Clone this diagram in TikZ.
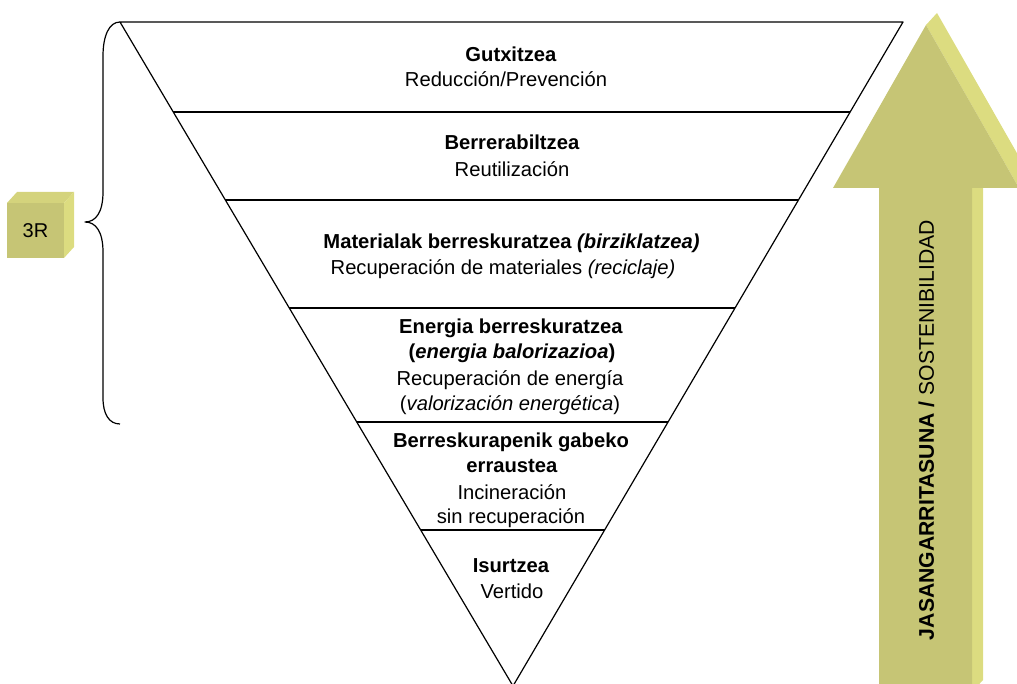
\documentclass[tikz,border=0pt]{standalone}
\usepackage{fontspec}
\setmainfont{Liberation Sans}
\usetikzlibrary{calc}
\definecolor{olivefront}{RGB}{198,197,117}
\definecolor{oliveside}{RGB}{220,220,128}
\definecolor{olivetop}{RGB}{212,211,124}
\begin{document}
\begin{tikzpicture}[x=1pt,y=-1pt,line join=round,
  lbl/.style={anchor=base,inner sep=0pt,font=\fontsize{20.2}{24}\selectfont},
  tri/.style={line width=1.2pt,black},
  brace/.style={line width=1.2pt,black}]
\useasboundingbox (0,0) rectangle (1017,684);
\clip (0,0) rectangle (1017,684);

% sustainability arrow
\fill[oliveside] (926,25) -- (937,13) -- (1030,176) -- (1019,188) -- cycle;
\fill[oliveside] (972,188) -- (983,176) -- (983,680) -- (972,692) -- cycle;
\fill[olivefront] (926,25) -- (1019,188) -- (972,188) -- (972,700) -- (879,700)
  -- (879,188) -- (833,188) -- cycle;
\node[rotate=90,inner sep=0pt,font=\fontsize{21.2}{25}\selectfont] (sust) at (926.5,430)
  {\textbf{JASANGARRITASUNA /} SOSTENIBILIDAD};

% 3R cube
\fill[olivetop] (7,203) -- (17,192) -- (74,192) -- (64,203) -- cycle;
\fill[oliveside] (64,203) -- (74,192) -- (74,247) -- (64,258) -- cycle;
\fill[olivefront] (7,203) rectangle (64,258);
\node[inner sep=0pt,font=\fontsize{20}{24}\selectfont] (r3) at (35.5,231) {3R};

% inverted triangle
\coordinate (TL) at (120,22);
\coordinate (TR) at (903,22);
\coordinate (B) at (513,686);
\draw[tri] (TL) -- (TR) -- (B) -- cycle;
\foreach \t in {0.1355,0.2681,0.4307,0.6024,0.7651}{
  \draw[tri] ($(TL)!\t!(B)$) -- ($(TR)!\t!(B)$);
}

% brace
\coordinate (BT) at (120,424);
\draw[brace] (TL) .. controls (109,22) and (103,36) .. (103,56) -- (103,192)
  .. controls (103,212) and (96,222) .. (85,222)
  .. controls (96,222) and (103,232) .. (103,252) -- (103,398)
  .. controls (103,414) and (109,424) .. (BT);

% texts
\node[lbl] (t1a) at (511,62) {\textbf{Gutxitzea}};
\node[lbl] (t1b) at (506,87) {Reducción/Prevención};
\node[lbl] (t2a) at (512,150) {\textbf{Berrerabiltzea}};
\node[lbl] (t2b) at (512,177) {Reutilización};
\node[lbl] (t3a) at (511.5,249) {\textbf{Materialak berreskuratzea \textit{(birziklatzea)}}};
\node[lbl] (t3b) at (503,275) {Recuperación de materiales \textit{(reciclaje)}};
\node[lbl] (t4a) at (511,334) {\textbf{Energia berreskuratzea}};
\node[lbl] (t4b) at (512,359) {\textbf{(\textit{energia balorizazioa})}};
\node[lbl] (t4c) at (510,385) {Recuperación de energía};
\node[lbl] (t4d) at (510,410) {(\textit{valorización energética})};
\node[lbl] (t5a) at (511,447) {\textbf{Berreskurapenik gabeko}};
\node[lbl] (t5b) at (512,472) {\textbf{erraustea}};
\node[lbl] (t5c) at (512,499) {Incineración};
\node[lbl] (t5d) at (511,523) {sin recuperación};
\node[lbl] (t6a) at (511,572) {\textbf{Isurtzea}};
\node[lbl] (t6b) at (512,598) {Vertido};
\end{tikzpicture}
\end{document}
